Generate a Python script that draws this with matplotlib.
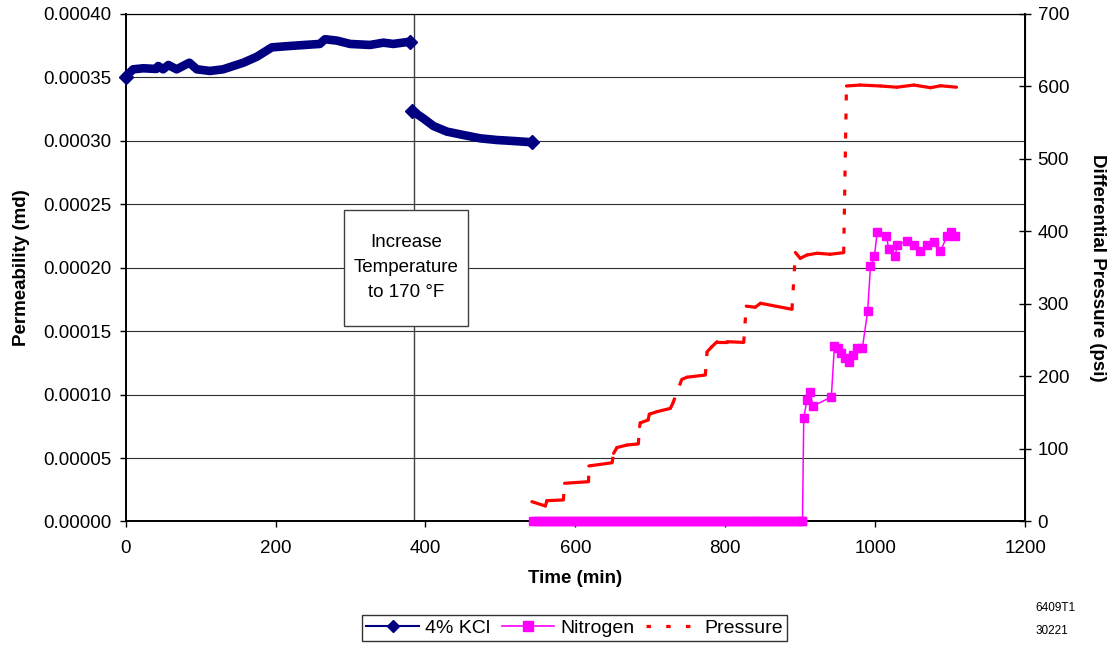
import numpy as np
import matplotlib
matplotlib.use("Agg")
import matplotlib.pyplot as plt
from matplotlib.collections import LineCollection
from matplotlib.lines import Line2D
from matplotlib.patches import Rectangle

plt.rcParams["font.family"] = ["Liberation Sans", "DejaVu Sans"]
plt.rcParams["lines.scale_dashes"] = False

# ---- 4% KCl permeability (md) vs time (min); NaN splits the two runs ----
kcl_time = [0, 10, 23.5, 41, 43.5, 50, 57, 68, 85, 95, 112.5, 130, 157, 175, 195,
            219, 259, 266, 282, 299.5, 326, 344, 357, 379.6,
            np.nan,
            382, 397, 410.7, 428.6, 450.7, 473, 495, 517.5, 542]
kcl_perm = [0.0003506, 0.0003564, 0.0003572, 0.0003567, 0.0003590, 0.0003564,
            0.0003598, 0.0003564, 0.0003616, 0.0003564, 0.0003551, 0.0003564,
            0.0003616, 0.0003663, 0.0003737, 0.0003748, 0.0003764, 0.0003801,
            0.0003790, 0.0003764, 0.0003756, 0.0003774, 0.0003764, 0.0003782,
            np.nan,
            0.0003238, 0.0003178, 0.0003117, 0.0003073, 0.0003046, 0.0003020,
            0.0003007, 0.0002999, 0.0002989]

# ---- Nitrogen permeability (md) ----
n2_idle_time = np.arange(543, 904, 4)          # logged readings with no gas flow
n2_idle_perm = np.zeros(len(n2_idle_time))
n2_flow_time = [904.7, 909, 912.7, 917, 941.5, 945.6, 951, 955, 960.4, 965.7,
                971, 976.4, 983, 990, 993.7, 999, 1002.7, 1015, 1018, 1027,
                1029, 1043, 1051.5, 1059.5, 1069, 1078, 1087, 1096, 1100.5, 1107]
n2_flow_perm = [0.0000818, 0.0000958, 0.0001023, 0.0000910, 0.0000981,
                0.000138, 0.000137, 0.000133, 0.000129, 0.000126, 0.000131,
                0.000137, 0.000137, 0.000166, 0.000201, 0.000209, 0.000228,
                0.000225, 0.000215, 0.000209, 0.000218, 0.000221, 0.000218,
                0.000213, 0.000218, 0.000220, 0.000213, 0.000225, 0.000228,
                0.000225]

# ---- Differential pressure (psi) ----
p_time = [542, 560, 562, 584,
          585.6, 617.6,
          618, 649,
          651, 655.5, 669, 684,
          685.7, 686.6, 697, 698.7, 709, 726.7, 730,
          742, 749, 773.4,
          775.7, 782, 789, 802.4, 824.6,
          828, 840, 847, 889,
          893.6, 900, 909, 922.6, 940, 958,
          961.7, 980, 1007, 1029, 1051.5, 1074, 1087, 1108.5]
p_psi = [27.3, 21.4, 28.7, 29.7,
         52.7, 54.9,
         76.6, 81,
         94, 102, 105.5, 107,
         130.8, 136, 140, 148, 151.5, 156, 163,
         196, 199, 202,
         234, 241, 248, 248, 247,
         297, 295.5, 301, 292.7,
         371, 363, 367.6, 370, 368.6, 370.8,
         600.7, 602, 600.7, 599, 602, 598.3, 601, 599]

x_ticks = [0, 200, 400, 600, 800, 1000, 1200]
perm_ticks = [0.0, 0.00005, 0.0001, 0.00015, 0.0002, 0.00025, 0.0003, 0.00035, 0.0004]
psi_ticks = [0, 100, 200, 300, 400, 500, 600, 700]

NAVY = "#000080"
MAGENTA = "#FF00FF"
RED = "#FF0000"
FS = 13.5

fig = plt.figure(figsize=(11.07, 6.45), dpi=100)
ax = fig.add_axes([0.1135, 0.1915, 0.8125, 0.7868])
ax2 = ax.twinx()

ax.set_xlim(0, 1200)
ax.set_ylim(0, 0.0004)
ax2.set_ylim(0, 700)
ax.set_xticks(x_ticks)
ax.set_yticks(perm_ticks)
ax2.set_yticks(psi_ticks)
ax.set_yticklabels([f"{v:.5f}" for v in perm_ticks])

ax.yaxis.grid(True, color="#303030", lw=0.8)
ax.set_axisbelow(True)

for s in ["left", "bottom"]:
    ax.spines[s].set_linewidth(1.4)
ax.spines["top"].set_linewidth(0.8)
ax2.spines["right"].set_linewidth(1.4)
ax2.spines["top"].set_linewidth(0.8)
ax2.spines["left"].set_visible(False)
ax2.spines["bottom"].set_visible(False)

ax.tick_params(axis="y", direction="out", length=4, width=1, pad=6, labelsize=FS)
ax.tick_params(axis="x", direction="out", length=4, width=1, pad=9, labelsize=FS)
ax2.tick_params(axis="y", direction="inout", length=8, width=1, pad=5, labelsize=FS)

# Temperature step marker
ax.axvline(385, color="#404040", lw=1.0, zorder=1)
ax.add_patch(Rectangle((0.2427, 0.385), 0.1379, 0.2288, transform=ax.transAxes,
                       facecolor="white", edgecolor="#404040", lw=1.0, zorder=4))
ax.text(374, 0.0002, "Increase\nTemperature\nto 170 \u00b0F", ha="center",
        va="center", fontsize=FS, linespacing=1.6, zorder=5)

# KCl and nitrogen on the permeability axis
ax.plot(kcl_time, kcl_perm, color=NAVY, lw=6.2, solid_capstyle="round",
        solid_joinstyle="round", marker="D", ms=7.5, markevery=[0, 23, 25, 33],
        zorder=3, clip_on=False)
ax.plot(n2_idle_time, n2_idle_perm, color=MAGENTA, lw=1, marker="s", ms=6,
        zorder=3, clip_on=False)
ax.plot([n2_idle_time[-1]] + n2_flow_time, [n2_idle_perm[-1]] + n2_flow_perm,
        color=MAGENTA, lw=1.1, marker="s", ms=6.2, zorder=3, clip_on=False)

# Pressure: dash pattern restarts on every logged segment
pts = np.column_stack([p_time, p_psi])
segs = [pts[i:i + 2] for i in range(len(pts) - 1)]
jump = np.abs(np.diff(p_psi)) > 10
flat_segs = [s for s, j in zip(segs, jump) if not j]
jump_segs = [s for s, j in zip(segs, jump) if j]
ax2.add_collection(LineCollection(flat_segs, colors=RED, linewidths=2.3,
                                  capstyle="round", zorder=3))
ax2.add_collection(LineCollection(jump_segs, colors=RED, linewidths=2.3,
                                  linestyles=[(0, (4.3, 9.4))], capstyle="butt",
                                  zorder=3))

ax.set_xlabel("Time (min)", fontsize=FS, fontweight="bold", labelpad=10)
ax.set_ylabel("Permeability (md)", fontsize=FS, fontweight="bold", labelpad=10)
ax2.set_ylabel("Differential Pressure (psi)", fontsize=FS, fontweight="bold",
               rotation=270, va="bottom", labelpad=14)

handles = [
    Line2D([], [], color=NAVY, lw=1.5, marker="D", ms=6),
    Line2D([], [], color=MAGENTA, lw=1.2, marker="s", ms=7),
    Line2D([], [], color=RED, lw=2.3, linestyle=(0, (3.2, 11))),
]
leg = fig.legend(handles, ["4% KCl", "Nitrogen", "Pressure"], loc="center",
                 bbox_to_anchor=(0.519, 0.0264), ncol=3, fontsize=14,
                 frameon=True, fancybox=False, edgecolor="black",
                 handlelength=2.7, handletextpad=0.3, columnspacing=0.6,
                 borderpad=0.22, borderaxespad=0)
leg.get_frame().set_linewidth(1.0)

fig.text(0.935, 0.057, "6409T1", fontsize=8.5, ha="left", va="center")
fig.text(0.935, 0.022, "30221", fontsize=8.5, ha="left", va="center")

fig.savefig("out.png", dpi=100)
